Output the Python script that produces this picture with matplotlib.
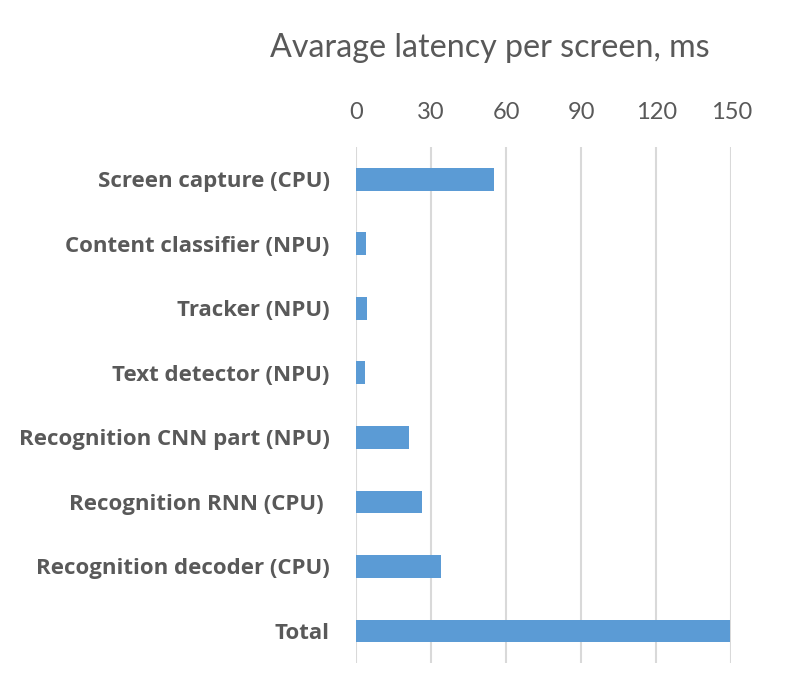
import matplotlib.pyplot as plt

categories = ['Screen capture (CPU)', 'Content classifier (NPU)', 'Tracker (NPU)',
              'Text detector (NPU)', 'Recognition CNN part (NPU)', 'Recognition RNN (CPU) ',
              'Recognition decoder (CPU)', 'Total']
latency_ms = [55, 4, 4.4, 3.6, 21.2, 26.4, 34, 149.6]
x_ticks = [0, 30, 60, 90, 120, 150]

text_color = '#595959'
plt.rcParams['font.family'] = ['Lato', 'DejaVu Sans']

fig = plt.figure(figsize=(7.93, 6.90), dpi=100)
ax = fig.add_axes([0.449, 0.039, 0.473, 0.748])

y = list(range(len(categories)))
ax.barh(y, latency_ms, height=0.35, color='#5B9BD5', zorder=3)

ax.set_ylim(len(categories) - 0.5, -0.5)
ax.set_xlim(0, 150)
ax.set_xticks(x_ticks)
ax.set_yticks(y)
ax.set_yticklabels(categories, fontsize=16, fontweight='bold', color=text_color,
                   family=['Open Sans', 'DejaVu Sans'])
ax.xaxis.tick_top()
ax.tick_params(axis='x', length=0, pad=17, labelsize=17, labelcolor=text_color)
ax.tick_params(axis='y', length=0, pad=19)
ax.grid(axis='x', color='#D9D9D9', linewidth=1.5, zorder=0)
for s in ax.spines.values():
    s.set_visible(False)

fig.text(490 / 793, 1 - 48 / 690, 'Avarage latency per screen, ms', fontsize=23.2,
         color=text_color, ha='center', va='center')

fig.savefig('out.png', dpi=100)
